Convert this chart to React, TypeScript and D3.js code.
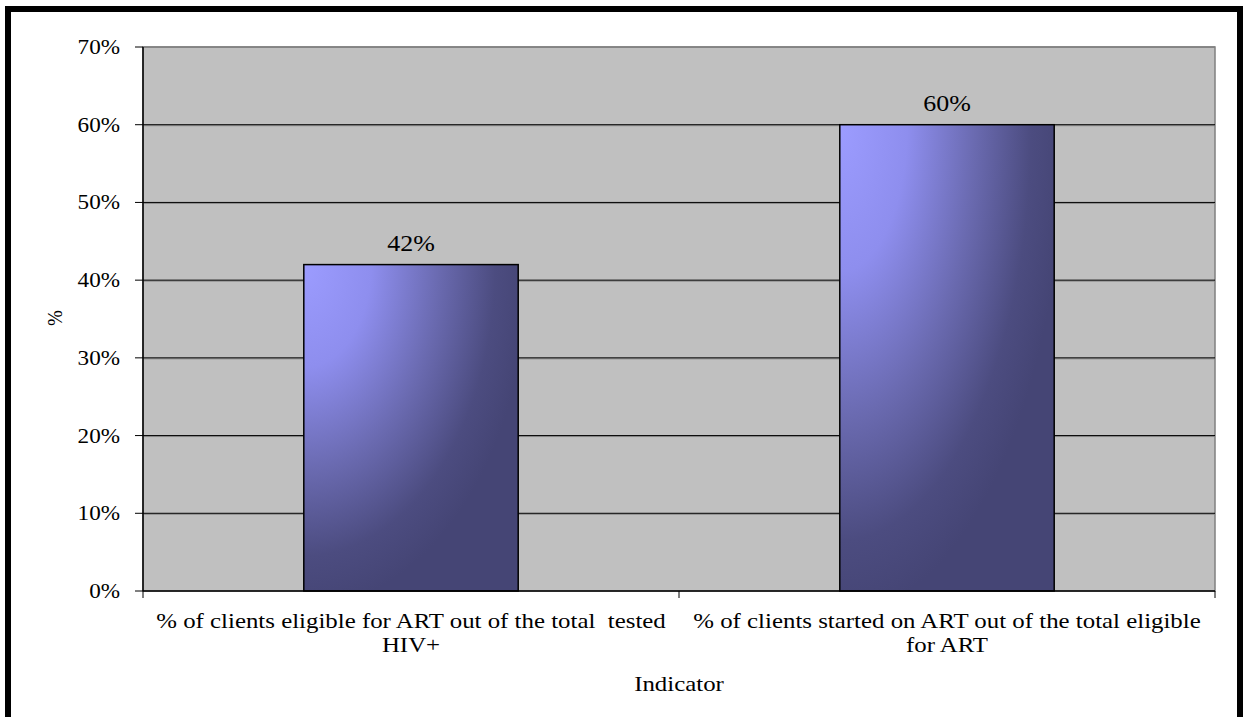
import React from "react";
import * as d3 from "d3";

const categories: string[][] = [
  ["% of clients eligible for ART out of the total  tested", "HIV+"],
  ["% of clients started on ART out of the total eligible", "for ART"],
];
const values: number[] = [0.42, 0.6];
const yTicks: number[] = [0, 0.1, 0.2, 0.3, 0.4, 0.5, 0.6, 0.7];
const yTitle = "%";
const xTitle = "Indicator";

const SX = 1.13; // horizontal stretch of the text in the reference

function SText(props: {
  x: number;
  y: number;
  size: number;
  anchor: "start" | "middle" | "end";
  children: React.ReactNode;
}) {
  return (
    <g transform={`translate(${props.x},${props.y}) scale(${SX},1)`}>
      <text x={0} y={0} textAnchor={props.anchor} fontSize={props.size} fill="#000" style={{ whiteSpace: "pre" }}>
        {props.children}
      </text>
    </g>
  );
}

export default function App() {
  const W = 1248;
  const H = 717;
  const left = 143;
  const right = 1215;
  const top = 47;
  const bottom = 591;
  const font = "'Liberation Serif', 'Times New Roman', serif";

  const x = d3
    .scaleBand<number>()
    .domain(categories.map((_, i) => i))
    .range([left, right])
    .paddingInner(0.6)
    .paddingOuter(0.3);
  const band = d3.scaleBand<number>().domain(categories.map((_, i) => i)).range([left, right]);
  const y = d3.scaleLinear().domain([0, 0.7]).range([bottom, top]);
  const fmt = d3.format(".0%");

  return (
    <div style={{ position: "absolute", left: 0, top: 0 }}>
      <svg width={W} height={H} style={{ display: "block" }} fontFamily={font}>
        <defs>
          <radialGradient id="barGrad" cx="0" cy="0" r="1.05" fx="0" fy="0">
            <stop offset="0" stopColor="#9C9CFF" />
            <stop offset="0.3" stopColor="#8E8EEE" />
            <stop offset="0.6" stopColor="#6A6AB0" />
            <stop offset="0.85" stopColor="#4C4C80" />
            <stop offset="1" stopColor="#454575" />
          </radialGradient>
        </defs>
        <rect x={0} y={0} width={W} height={H} fill="#fff" />
        {/* outer frame */}
        <rect x={8} y={9} width={1232} height={730} fill="none" stroke="#000" strokeWidth={6} />
        {/* plot area */}
        <rect x={left} y={top} width={right - left} height={bottom - top} fill="#C0C0C0" stroke="#808080" strokeWidth={1.5} />
        {/* gridlines */}
        {yTicks.slice(1, -1).map((t) => (
          <g key={t}>
            <line x1={left} x2={right} y1={y(t) + 1} y2={y(t) + 1} stroke="#8A8A8A" strokeWidth={1} />
            <line x1={left} x2={right} y1={y(t)} y2={y(t)} stroke="#000" strokeWidth={1} />
          </g>
        ))}
        <line x1={left} x2={right} y1={top} y2={top} stroke="#808080" strokeWidth={1.5} />
        {/* bars */}
        {values.map((v, i) => (
          <g key={i}>
            <rect
              x={x(i)!}
              y={y(v)}
              width={x.bandwidth()}
              height={bottom - y(v)}
              fill="url(#barGrad)"
              stroke="#000"
              strokeWidth={1.5}
            />
            <SText x={x(i)! + x.bandwidth() / 2} y={y(v) - 14} size={23} anchor="middle">
              {fmt(v)}
            </SText>
          </g>
        ))}
        {/* y axis */}
        <line x1={left} x2={left} y1={top} y2={bottom} stroke="#000" strokeWidth={1.5} />
        {yTicks.map((t) => (
          <g key={t}>
            <line x1={left - 8} x2={left} y1={y(t)} y2={y(t)} stroke="#000" strokeWidth={1} />
            <SText x={120} y={y(t) + 7} size={20.5} anchor="end">
              {fmt(t)}
            </SText>
          </g>
        ))}
        {/* x axis */}
        <line x1={left} x2={right} y1={bottom} y2={bottom} stroke="#000" strokeWidth={1.5} />
        {[...categories.map((_, i) => band(i)!), right].map((px, i) => (
          <line key={i} x1={px} x2={px} y1={bottom} y2={bottom + 7} stroke="#000" strokeWidth={1} />
        ))}
        {categories.map((lines, i) =>
          lines.map((ln, j) => (
            <SText key={`${i}-${j}`} x={band(i)! + band.bandwidth() / 2} y={628 + j * 24} size={22} anchor="middle">
              {ln}
            </SText>
          ))
        )}
        <SText x={(left + right) / 2} y={691} size={22} anchor="middle">
          {xTitle}
        </SText>
        <g transform={`translate(62, ${318}) scale(${SX},1) rotate(-90)`}>
          <text x={0} y={0} textAnchor="middle" fontSize={19} fill="#000">
            {yTitle}
          </text>
        </g>
      </svg>
    </div>
  );
}
